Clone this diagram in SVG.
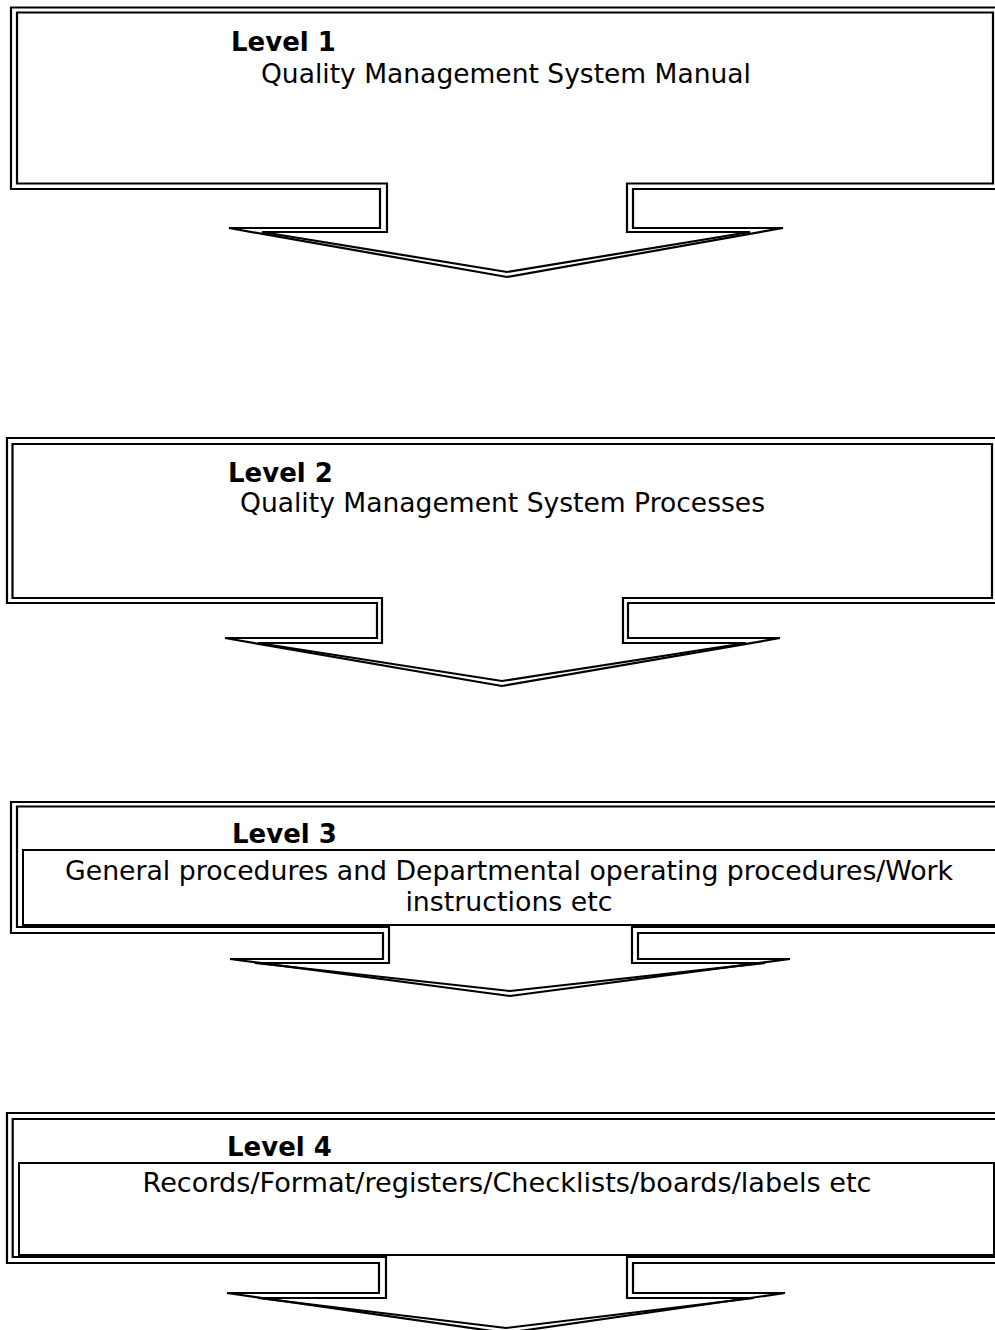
<svg xmlns="http://www.w3.org/2000/svg" width="995" height="1330" viewBox="0 0 995 1330">
<style>
.ln{fill:none;stroke:#000;stroke-width:2.2;stroke-linejoin:miter}
.rc{fill:none;stroke:#000;stroke-width:2}
.t{font-family:"DejaVu Sans","Verdana",sans-serif;font-size:26.8px;fill:#000}
.b{font-weight:bold;font-size:26px}
.c{text-anchor:middle}
</style>
<rect x="0" y="0" width="995" height="1330" fill="#fff"/>
<g id="level1">
<polygon class="ln" points="11,7.5 1002,7.5 1002,189 633,189 633,228 783,228 507,277 229,228 380,228 380,189 11,189"/>
<polygon class="ln" points="17,12.5 993,12.5 993,183.5 627,183.5 627,232 750,232 507,272 262,232 387,232 387,183.5 17,183.5"/>
<text class="t b" x="231" y="51">Level 1</text>
<text class="t" x="261" y="83" textLength="490" lengthAdjust="spacingAndGlyphs">Quality Management System Manual</text>
</g>
<g id="level2">
<polygon class="ln" points="7,438 1002,438 1002,603 628,603 628,638 780,638 502,686 225,638 377,638 377,603 7,603"/>
<polygon class="ln" points="12.5,444 992,444 992,598 623,598 623,643 746,643 502,681 258,643 382,643 382,598 12.5,598"/>
<text class="t b" x="228" y="482">Level 2</text>
<text class="t" x="240" y="512" textLength="525" lengthAdjust="spacingAndGlyphs">Quality Management System Processes</text>
</g>
<g id="level3">
<polygon class="ln" points="11,802 1002,802 1002,933 638,933 638,959 790,959 510,996 230,959 383,959 383,933 11,933"/>
<polygon class="ln" points="17,806.5 1000,806.5 1000,927 632,927 632,963 765,963 510,991 255,963 389,963 389,927 17,927"/>
<rect class="rc" x="23" y="850" width="990" height="75"/>
<text class="t b" x="232" y="843">Level 3</text>
<text class="t c" x="509" y="880" textLength="888" lengthAdjust="spacingAndGlyphs">General procedures and Departmental operating procedures/Work</text>
<text class="t c" x="509" y="911">instructions etc</text>
</g>
<g id="level4">
<polygon class="ln" points="7,1113 1002,1113 1002,1263 633,1263 633,1293 785,1293 506,1333 227,1293 379,1293 379,1263 7,1263"/>
<polygon class="ln" points="12.7,1119 1000,1119 1000,1257 627,1257 627,1298 754,1298 506,1328 258,1298 386,1298 386,1257 12.7,1257"/>
<rect class="rc" x="19" y="1163" width="975" height="92"/>
<text class="t b" x="227" y="1156">Level 4</text>
<text class="t c" x="507" y="1192" textLength="729" lengthAdjust="spacingAndGlyphs">Records/Format/registers/Checklists/boards/labels etc</text>
</g>
<g id="connectors"></g>
</svg>
